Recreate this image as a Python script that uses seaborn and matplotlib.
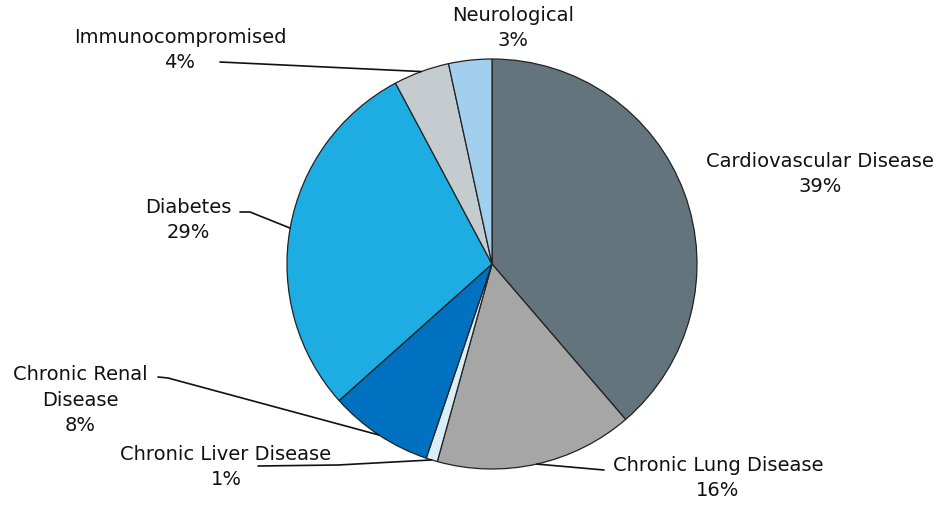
import matplotlib
matplotlib.use('Agg')
import matplotlib.pyplot as plt
import seaborn as sns
import numpy as np

#%% Dados (fatias, rotulos arredondados)

categorias = ['Cardiovascular Disease', 'Chronic Lung Disease', 'Chronic Liver Disease',
              'Chronic Renal\nDisease', 'Diabetes', 'Immunocompromised', 'Neurological']
valores = [38.7, 15.6, 0.9, 8.2, 28.8, 4.4, 3.4]
rotulos_pct = ['39%', '16%', '1%', '8%', '29%', '4%', '3%']
cores = ['#63747C', '#A6A6A6', '#DAEEF8', '#0070C0', '#1EADE3', '#C5CCD0', '#A3CFEE']

#%% Figura (coordenadas em pixels, y medido de cima)

H = 508
sns.set_theme(style='white')
plt.rcParams['font.family'] = ['DejaVu Sans']

fig = plt.figure(figsize=(9.46, 5.08), dpi=100)
ax = fig.add_axes([0, 0, 1, 1])

cx, cy, r = 492, 264, 205
wedges, _ = ax.pie(valores, colors=cores, startangle=90, counterclock=False,
                   center=(cx, H - cy), radius=r,
                   wedgeprops=dict(edgecolor='#222222', linewidth=0.9))
ax.set_xlim(0, 946)
ax.set_ylim(0, H)
ax.set_aspect('equal')
ax.axis('off')

#%% Rotulos e linhas guia

pos_texto = [(820, 174), (718, 478), (226, 467), (80, 400), (188, 220), (180, 50), (513, 28)]
guias = {
    1: [(604, 470)],
    2: [(258, 466), (338, 465)],
    3: [(158, 377), (168, 378)],
    4: [(240, 212), (250, 212)],
    5: [(220, 62)],
}

for i, (w, nome, pct) in enumerate(zip(wedges, categorias, rotulos_pct)):
    x, y = pos_texto[i]
    ax.text(x, H - y, f'{nome}\n{pct}', ha='center', va='center', fontsize=14,
            color='#111111', linespacing=1.45)
    if i in guias:
        ang = np.deg2rad((w.theta1 + w.theta2) / 2)
        ex, ey = cx + r * np.cos(ang), H - cy + r * np.sin(ang)
        pts = [(q[0], H - q[1]) for q in guias[i]] + [(ex, ey)]
        ax.plot([q[0] for q in pts], [q[1] for q in pts], color='#111111', lw=1.2)

fig.savefig('out.png', dpi=100, facecolor='white')
